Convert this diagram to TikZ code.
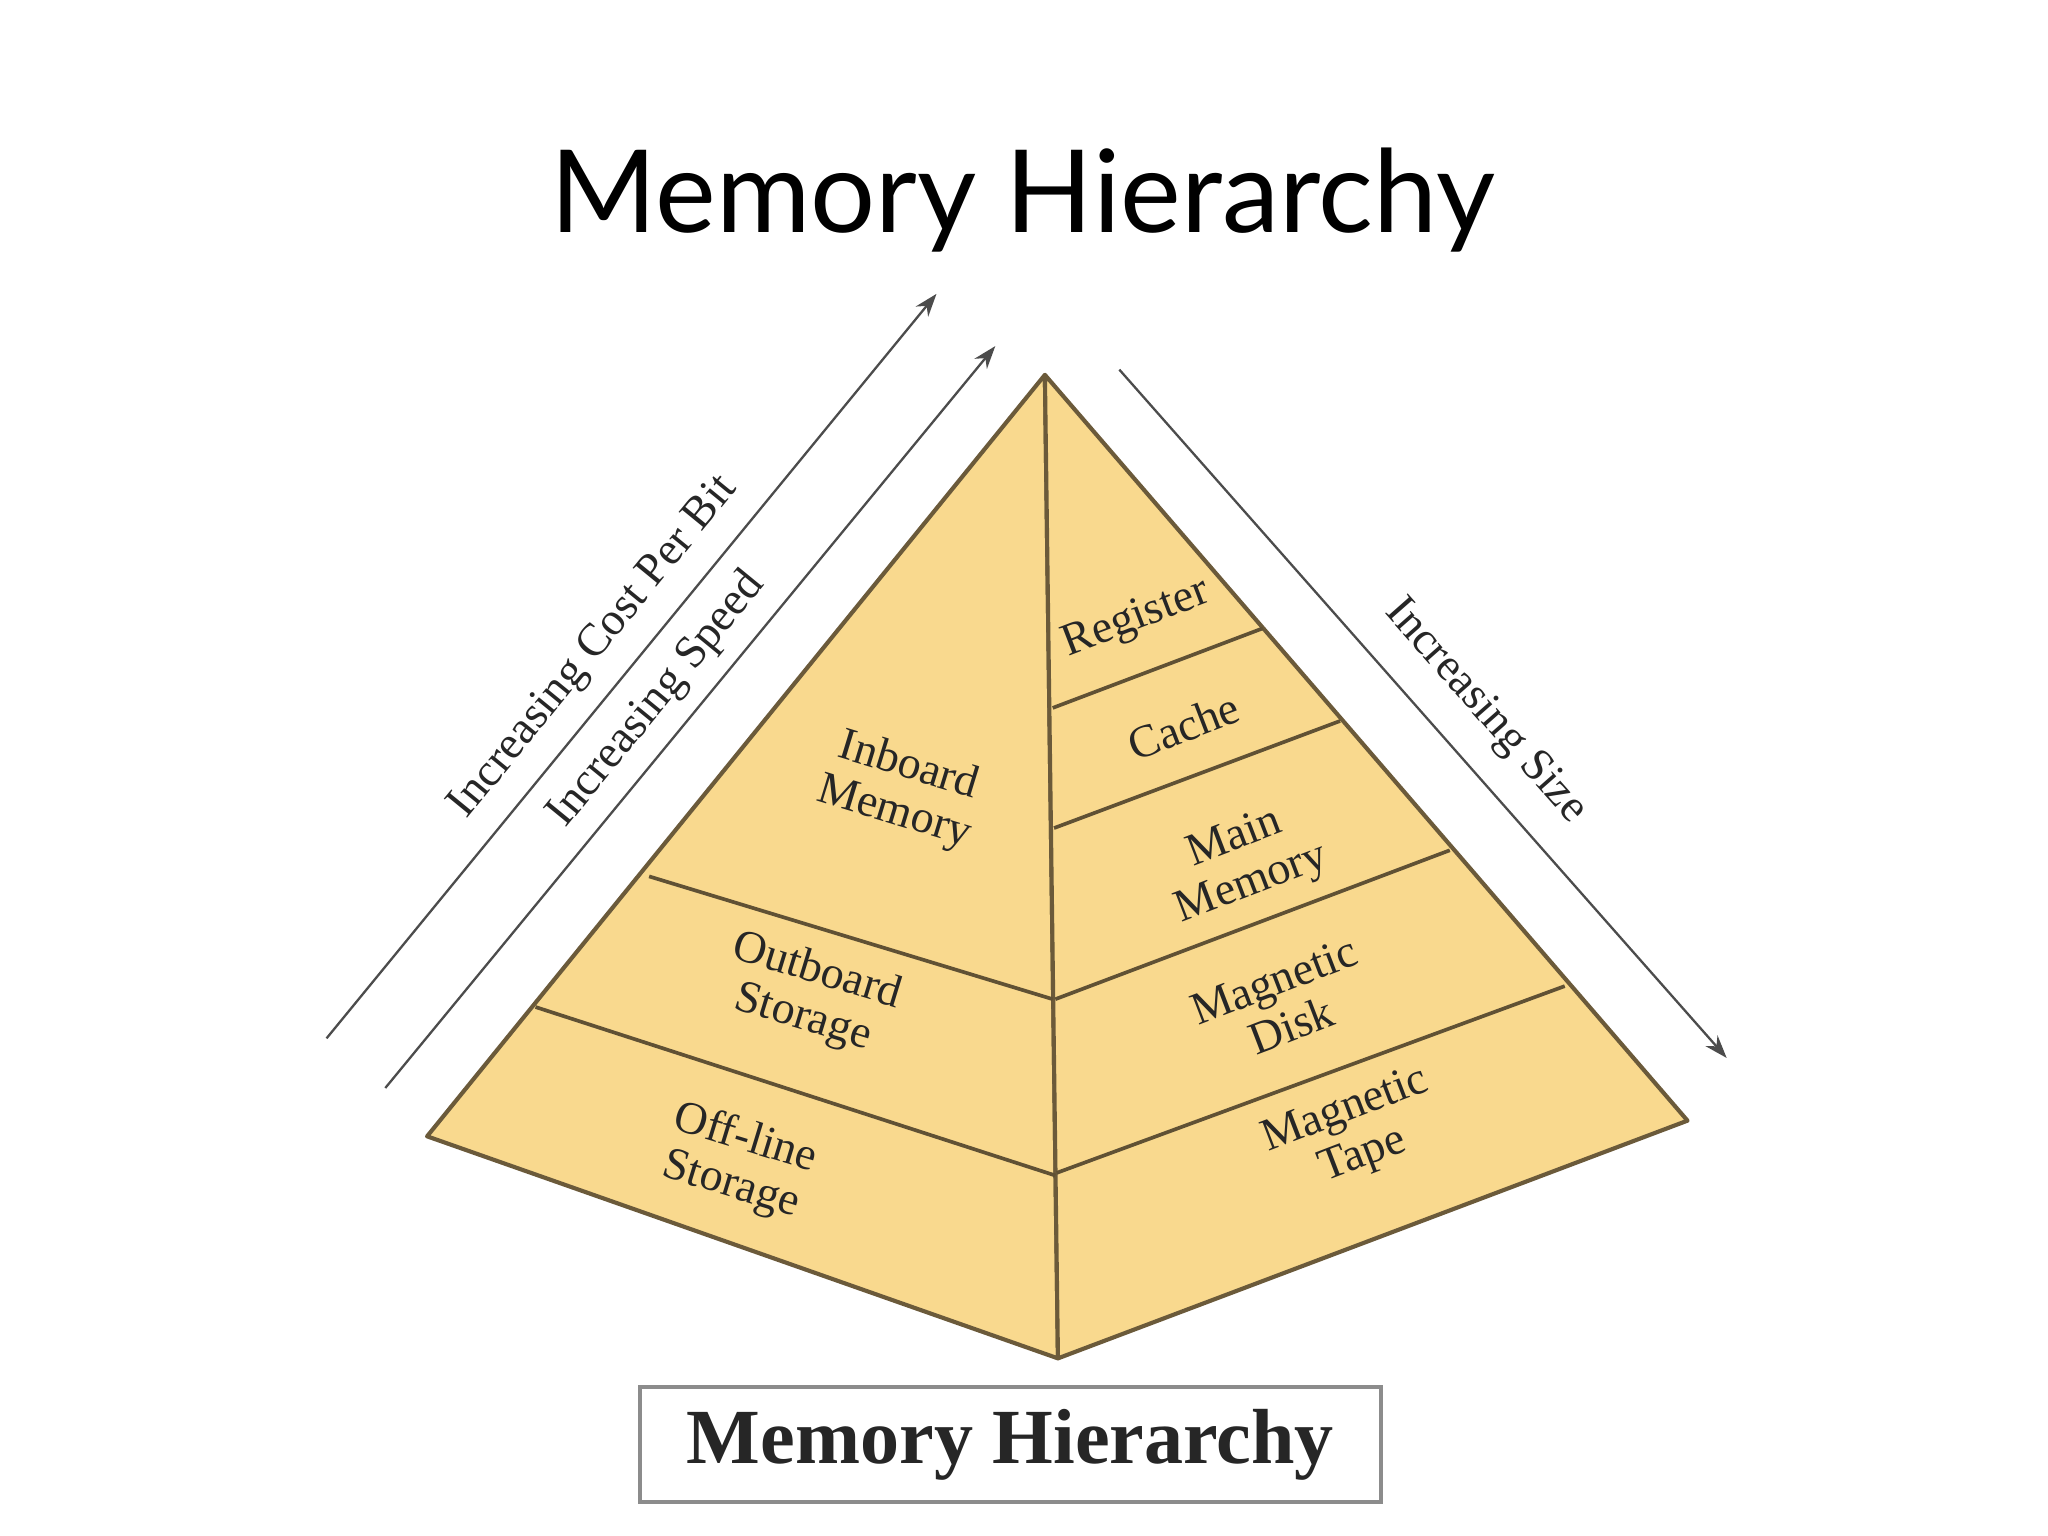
\documentclass[tikz,border=0pt]{standalone}
\usepackage{fontspec}
\setmainfont{Liberation Serif}
\newfontfamily\titlefont{Lato}
\usetikzlibrary{arrows.meta}
\begin{document}
\begin{tikzpicture}[x=0.01cm,y=-0.01cm,
  face/.style={fill=pyr,draw=edge,line width=0.9pt,line join=round},
  sep/.style={draw=edge!90!black,line width=0.8pt},
  lbl/.style={font=\fontsize{10}{10.5}\selectfont,align=center,text=black!85,inner sep=0pt},
  axis/.style={draw=black!70,line width=0.5pt,-{Stealth[length=5pt,width=3.5pt]}},
  axlbl/.style={font=\fontsize{10}{10}\selectfont,text=black!85,inner sep=0pt}]
\definecolor{pyr}{HTML}{F9D98E}
\definecolor{edge}{HTML}{6B5A3A}
\useasboundingbox (0,0) rectangle (1568,1176);
\node[font=\titlefont\fontsize{25}{28}\selectfont,inner sep=0pt] (title) at (783,153) {Memory Hierarchy};
% pyramid
\coordinate (A) at (800,287);
\coordinate (L) at (327,870);
\coordinate (R) at (1292,858);
\coordinate (B) at (810,1040);
\path[face] (A) -- (L) -- (B) -- cycle;
\path[face] (A) -- (B) -- (R) -- cycle;
\draw[sep] (497,671) -- (806,765);
\draw[sep] (410,771) -- (808,900);
\draw[sep] (806,542) -- (967,481);
\draw[sep] (807,634) -- (1026,552);
\draw[sep] (808,765) -- (1110,651);
\draw[sep] (809,898) -- (1198,755);
% labels
\node[lbl,rotate=-17] (inb) at (690,605) {Inboard\\Memory};
\node[lbl,rotate=-17] (outb) at (620,762) {Outboard\\Storage};
\node[lbl,rotate=-17] (offl) at (565,890) {Off-line\\Storage};
\node[lbl,rotate=21] (reg) at (870,474) {Register};
\node[lbl,rotate=21] (cache) at (906,556) {Cache};
\node[lbl,rotate=21] (mm) at (952,660) {Main\\Memory};
\node[lbl,rotate=21] (md) at (982,768) {Magnetic\\Disk};
\node[lbl,rotate=21] (mt) at (1037,868) {Magnetic\\Tape};
% arrows
\coordinate (a1s) at (250,795); \coordinate (a1e) at (717,225);
\coordinate (a2s) at (295,833); \coordinate (a2e) at (762,265);
\coordinate (a3s) at (857,283); \coordinate (a3e) at (1322,810);
\draw[axis] (a1s) -- (a1e);
\draw[axis] (a2s) -- (a2e);
\draw[axis] (a3s) -- (a3e);
\node[axlbl,rotate=50.7] (cost) at (455,496) {Increasing Cost Per Bit};
\node[axlbl,rotate=50.7] (speed) at (503,536) {Increasing Speed};
\node[axlbl,rotate=-48.6] (size) at (1137,545) {Increasing Size};
% bottom box
\node[draw=black!45,line width=0.8pt,minimum width=5.67cm,minimum height=0.88cm,inner sep=0pt,
  font=\bfseries\fontsize{17}{17}\selectfont,text=black!85] (cap) at (773.5,1106) {Memory Hierarchy};
\end{tikzpicture}
\end{document}
